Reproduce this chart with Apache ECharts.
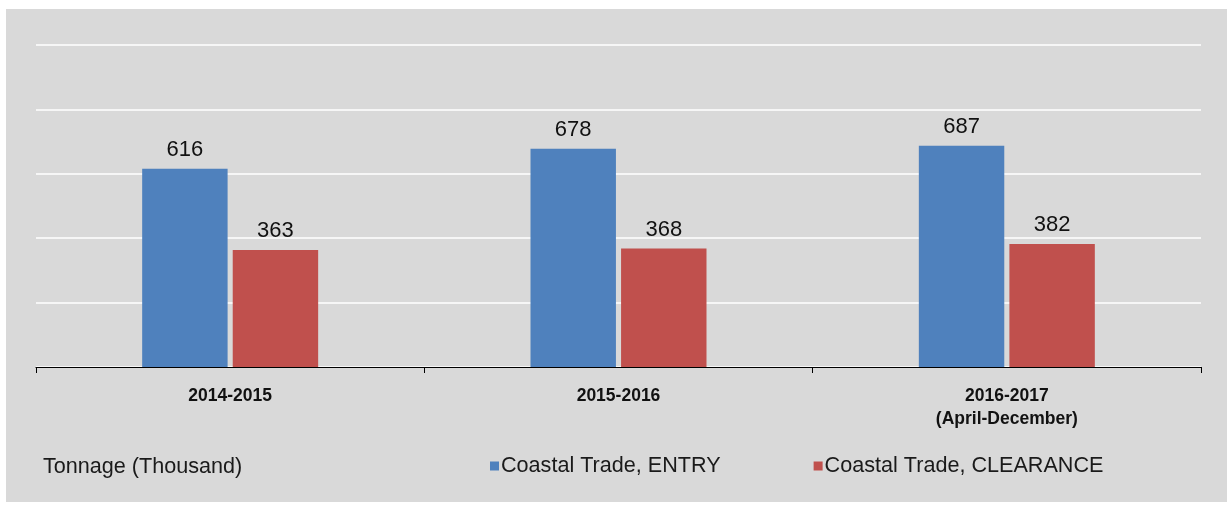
<!DOCTYPE html>
<html>
<head>
<meta charset="utf-8">
<script src="https://cdn.jsdelivr.net/npm/echarts@6/dist/echarts.min.js"></script>
<style>
html,body{margin:0;padding:0;background:#fff;}
#chart{width:1227px;height:508px;}
</style>
</head>
<body>
<div id="chart"></div>
<script>
var categories = ['2014-2015', '2015-2016', '2016-2017\n{sub|(April-December)}'];
var entryValues = [616, 678, 687];
var clearanceValues = [363, 368, 382];
var seriesNames = ['Coastal Trade, ENTRY', 'Coastal Trade, CLEARANCE'];
var unitLabel = 'Tonnage (Thousand)';

var chart = echarts.init(document.getElementById('chart'));
var font = '"Liberation Sans", Arial, sans-serif';
chart.setOption({
  animation: false,
  backgroundColor: '#ffffff',
  graphic: [
    {type: 'rect', z: -10, shape: {x: 6, y: 9, width: 1221, height: 493}, style: {fill: '#d9d9d9'}},
    {type: 'text', left: 43, top: 456, style: {text: unitLabel, fontSize: 21.6, fontFamily: font, fill: '#1a1a1a'}}
  ],
  grid: {left: 36, right: 26, top: 45, bottom: 141},
  legend: {
    left: 485, top: 450,
    icon: 'rect', itemWidth: 9, itemHeight: 9, itemGap: 93,
    textStyle: {fontSize: 21.6, fontFamily: font, color: '#1a1a1a', padding: [0, 0, 0, -3]},
    data: seriesNames
  },
  xAxis: {
    type: 'category',
    data: categories,
    axisLine: {lineStyle: {color: '#000', width: 1.2}},
    axisTick: {show: true, length: 6, lineStyle: {color: '#000'}},
    axisLabel: {
      margin: 18, fontSize: 17.5, fontWeight: 'bold', color: '#111', fontFamily: font, lineHeight: 23,
      rich: {sub: {fontSize: 17.5, fontWeight: 'bold', color: '#111', fontFamily: font}}
    }
  },
  yAxis: {
    type: 'value', min: 0, max: 1000, interval: 200,
    axisLabel: {show: false},
    axisLine: {show: false},
    axisTick: {show: false},
    splitLine: {lineStyle: {color: '#ffffff', width: 1.5}}
  },
  series: [
    {
      name: seriesNames[0], type: 'bar', data: entryValues,
      barWidth: '22%', barGap: '6%',
      itemStyle: {color: '#4f81bd'},
      label: {show: true, position: 'top', distance: 8, fontSize: 22, color: '#111', fontFamily: font}
    },
    {
      name: seriesNames[1], type: 'bar', data: clearanceValues,
      barWidth: '22%', barGap: '6%',
      itemStyle: {color: '#c0504d'},
      label: {show: true, position: 'top', distance: 8, fontSize: 22, color: '#111', fontFamily: font}
    }
  ]
});
</script>
</body>
</html>
